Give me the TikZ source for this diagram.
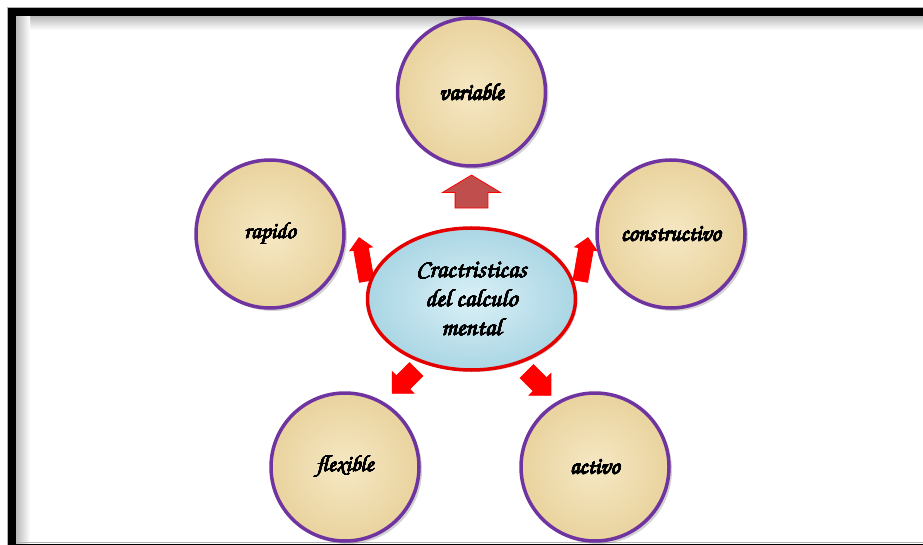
\documentclass[tikz,border=0pt]{standalone}
\usepackage{contour}
\usetikzlibrary{shapes,shapes.arrows,shadows,positioning}

\contourlength{0.3pt}
\contournumber{16}

\definecolor{papyrus}{RGB}{233,211,158}
\definecolor{papyruslt}{RGB}{246,232,196}
\definecolor{ringpurple}{RGB}{112,52,160}
\definecolor{waterblue}{RGB}{170,214,228}
\definecolor{waterlt}{RGB}{218,240,246}
\definecolor{brickred}{RGB}{192,78,76}

\newcommand{\chancery}{\fontencoding{T1}\fontfamily{pzc}\fontseries{mb}\fontshape{it}\selectfont}
\newcommand{\inked}[1]{\contour{black}{#1}}

\tikzset{
  idea/.style={circle, minimum size=148pt, inner sep=0pt, draw=ringpurple,
    line width=3.5pt, inner color=papyruslt, outer color=papyrus,
    drop shadow={shadow xshift=3pt, shadow yshift=-3pt, opacity=0.35},
    font=\chancery\fontsize{23}{27}\selectfont},
  core/.style={ellipse, minimum width=208pt, minimum height=142pt, inner sep=0pt,
    draw=red!90!black, line width=3.5pt, inner color=waterlt, outer color=waterblue,
    drop shadow={shadow xshift=2pt, shadow yshift=-2pt, opacity=0.3},
    align=center, font=\chancery\fontsize{25}{29}\selectfont},
  push/.style={single arrow, draw=red, fill=red, inner xsep=0pt, line width=0.8pt},
}

\begin{document}
\begin{tikzpicture}[x=1pt,y=-1pt]
    \useasboundingbox (0,0) rectangle (923,545);
    \clip (0,0) rectangle (923,545);
    \pgfmathsetmacro {\cx}{471.5} %x of the centre ellipse
    \pgfmathsetmacro {\cy}{299}   %y of the centre ellipse

    % Frame with its inner shadow
    \shade[top color=gray!55, bottom color=white] (16,16) rectangle (923,30);
    \shade[left color=gray!55, right color=white] (16,16) rectangle (30,545);
    \draw[gray!60, line width=0.8pt] (7.6,545) -- (7.6,7.6) -- (923,7.6);
    \draw[line width=8pt] (12,560) -- (12,12) -- (940,12);
    \draw[line width=8pt] (8,548) -- (940,548);
    \draw[gray!60, line width=0.8pt] (16,542.6) -- (923,542.6);

    % Arrows, drawn under the ellipse
    \node[push, fill=brickred, rotate=90, minimum height=33pt, inner ysep=16pt,
          single arrow head extend=12.5pt, single arrow tip angle=118] (toVariable) at (\cx,196.5) {};
    \node[push, rotate=100, minimum height=44pt, inner ysep=7pt,
          single arrow head extend=4pt] (toRapido) at (\cx-108,263) {};
    \node[push, rotate=80, minimum height=44pt, inner ysep=7pt,
          single arrow head extend=4pt] (toConstructivo) at (\cx+112,263) {};
    \node[push, rotate=225, minimum height=34pt, inner ysep=9pt,
          single arrow head extend=6pt] (toFlexible) at (\cx-64,378) {};
    \node[push, rotate=-45, minimum height=34pt, inner ysep=9pt,
          single arrow head extend=6pt] (toActivo) at (\cx+64,380) {};

    % Centre ellipse
    \node[core] (core) at (\cx,\cy) {\inked{Cractristicas}\\\inked{del calculo}\\\inked{mental}};

    % The five features
    \node[idea] (variable)     at (\cx,92)  {\inked{variable}};
    \node[idea] (rapido)       at (270,234) {\inked{rapido}};
    \node[idea] (constructivo) at (671,234) {\inked{constructivo}};
    \node[idea] (flexible)     at (345,467) {\inked{flexible}};
    \node[idea] (activo)       at (595,467) {\inked{activo}};
\end{tikzpicture}
\end{document}
